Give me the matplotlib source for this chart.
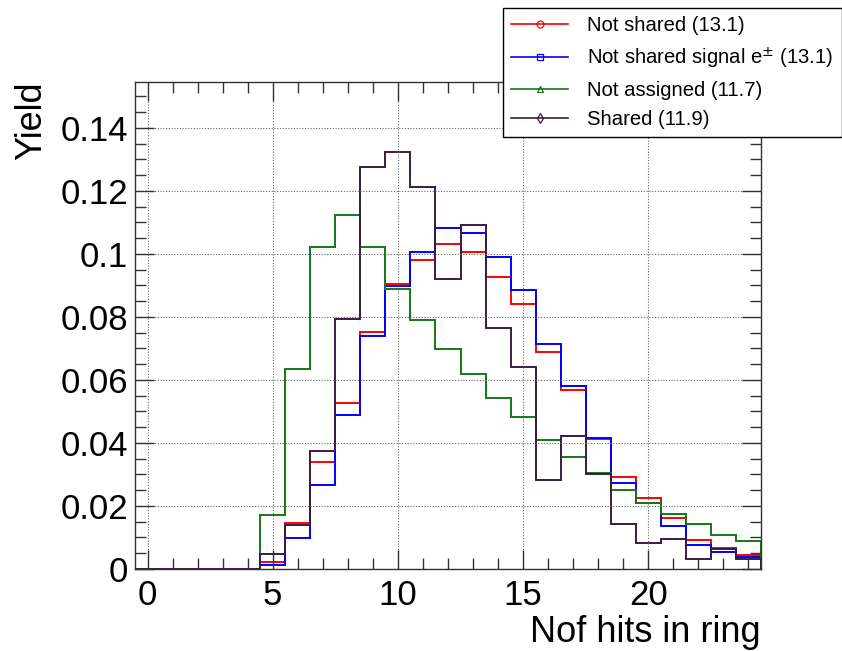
import matplotlib
matplotlib.use("Agg")
import matplotlib.pyplot as plt
import numpy as np
from matplotlib.lines import Line2D
from matplotlib.ticker import FuncFormatter, MultipleLocator

plt.rcParams["font.family"] = ["Liberation Sans", "DejaVu Sans"]

bin_edges = np.arange(-0.5, 25.0, 1.0)

not_shared = [0, 0, 0, 0, 0, 0.0023, 0.0145, 0.0341, 0.0527, 0.0752, 0.0905, 0.0981,
              0.1031, 0.1005, 0.0928, 0.0841, 0.0690, 0.0568, 0.0412, 0.0293, 0.0226,
              0.0162, 0.0093, 0.0066, 0.0044]
not_shared_signal = [0, 0, 0, 0, 0, 0.0013, 0.0099, 0.0267, 0.0490, 0.0739, 0.0899, 0.1005,
                     0.1082, 0.1066, 0.0992, 0.0887, 0.0715, 0.0582, 0.0416, 0.0273, 0.0208,
                     0.0138, 0.0076, 0.0053, 0.0037]
not_assigned = [0, 0, 0, 0, 0, 0.0172, 0.0634, 0.1023, 0.1124, 0.1021, 0.0890, 0.0791,
                0.0699, 0.0618, 0.0542, 0.0484, 0.0411, 0.0354, 0.0304, 0.0252, 0.0208,
                0.0174, 0.0143, 0.0109, 0.0088]
shared = [0, 0, 0, 0, 0, 0.0048, 0.0141, 0.0374, 0.0793, 0.1275, 0.1324, 0.1214,
          0.0921, 0.1091, 0.0766, 0.0642, 0.0283, 0.0423, 0.0300, 0.0144, 0.0081,
          0.0096, 0.0033, 0.0064, 0.0033]

series = [
    (not_shared, "#ff0000", "o", "Not shared (13.1)"),
    (not_shared_signal, "#0000ff", "s", "Not shared signal e$^{\\pm}$ (13.1)"),
    (not_assigned, "#157815", "^", "Not assigned (11.7)"),
    (shared, "#3b1a48", "d", "Shared (11.9)"),
]

fig = plt.figure(figsize=(8.42, 6.51), dpi=100)
ax = fig.add_axes([135 / 842, 1 - 569 / 651, (761 - 135) / 842, (569 - 82) / 651])

handles = []
for vals, col, mk, lab in series:
    ax.stairs(vals, bin_edges, color=col, lw=1.4)
    handles.append(Line2D([], [], color=col, lw=1.2, marker=mk, markersize=5,
                          markerfacecolor="none", markeredgewidth=0.9, label=lab))

ax.set_xlim(-0.5, 24.5)
ax.set_ylim(0, 0.1546)

ax.xaxis.set_major_locator(MultipleLocator(5))
ax.xaxis.set_minor_locator(MultipleLocator(1))
ax.yaxis.set_major_locator(MultipleLocator(0.02))
ax.yaxis.set_minor_locator(MultipleLocator(0.005))
ax.yaxis.set_major_formatter(FuncFormatter(lambda v, p: "%g" % round(v, 4)))

ax.tick_params(which="both", direction="in", top=True, right=True, color="#333333")
ax.tick_params(which="major", length=14, width=1, labelsize=25)
ax.tick_params(which="minor", length=8, width=1)
ax.tick_params(axis="x", which="major", pad=7)
ax.tick_params(axis="y", which="major", pad=5)

ax.grid(True, which="major", color="#666666", linestyle=(0, (1, 1.5)), lw=0.8)
for s in ax.spines.values():
    s.set_linewidth(1)
    s.set_color("#333333")

ax.set_xlabel("Nof hits in ring", fontsize=26, loc="right")
ax.xaxis.set_label_coords(1.0, -0.094)
ax.set_ylabel("Yield", fontsize=26, loc="top", labelpad=8)

leg = fig.legend(handles=handles, loc="upper left",
                 bbox_to_anchor=(503 / 842, 1 - 8 / 651), fontsize=14.6,
                 frameon=True, fancybox=False, edgecolor="black", framealpha=1,
                 handlelength=2.8, borderpad=0.4, labelspacing=0.5,
                 handletextpad=0.95, borderaxespad=0)
leg.get_frame().set_linewidth(1)

fig.savefig("out.png", dpi=100)
